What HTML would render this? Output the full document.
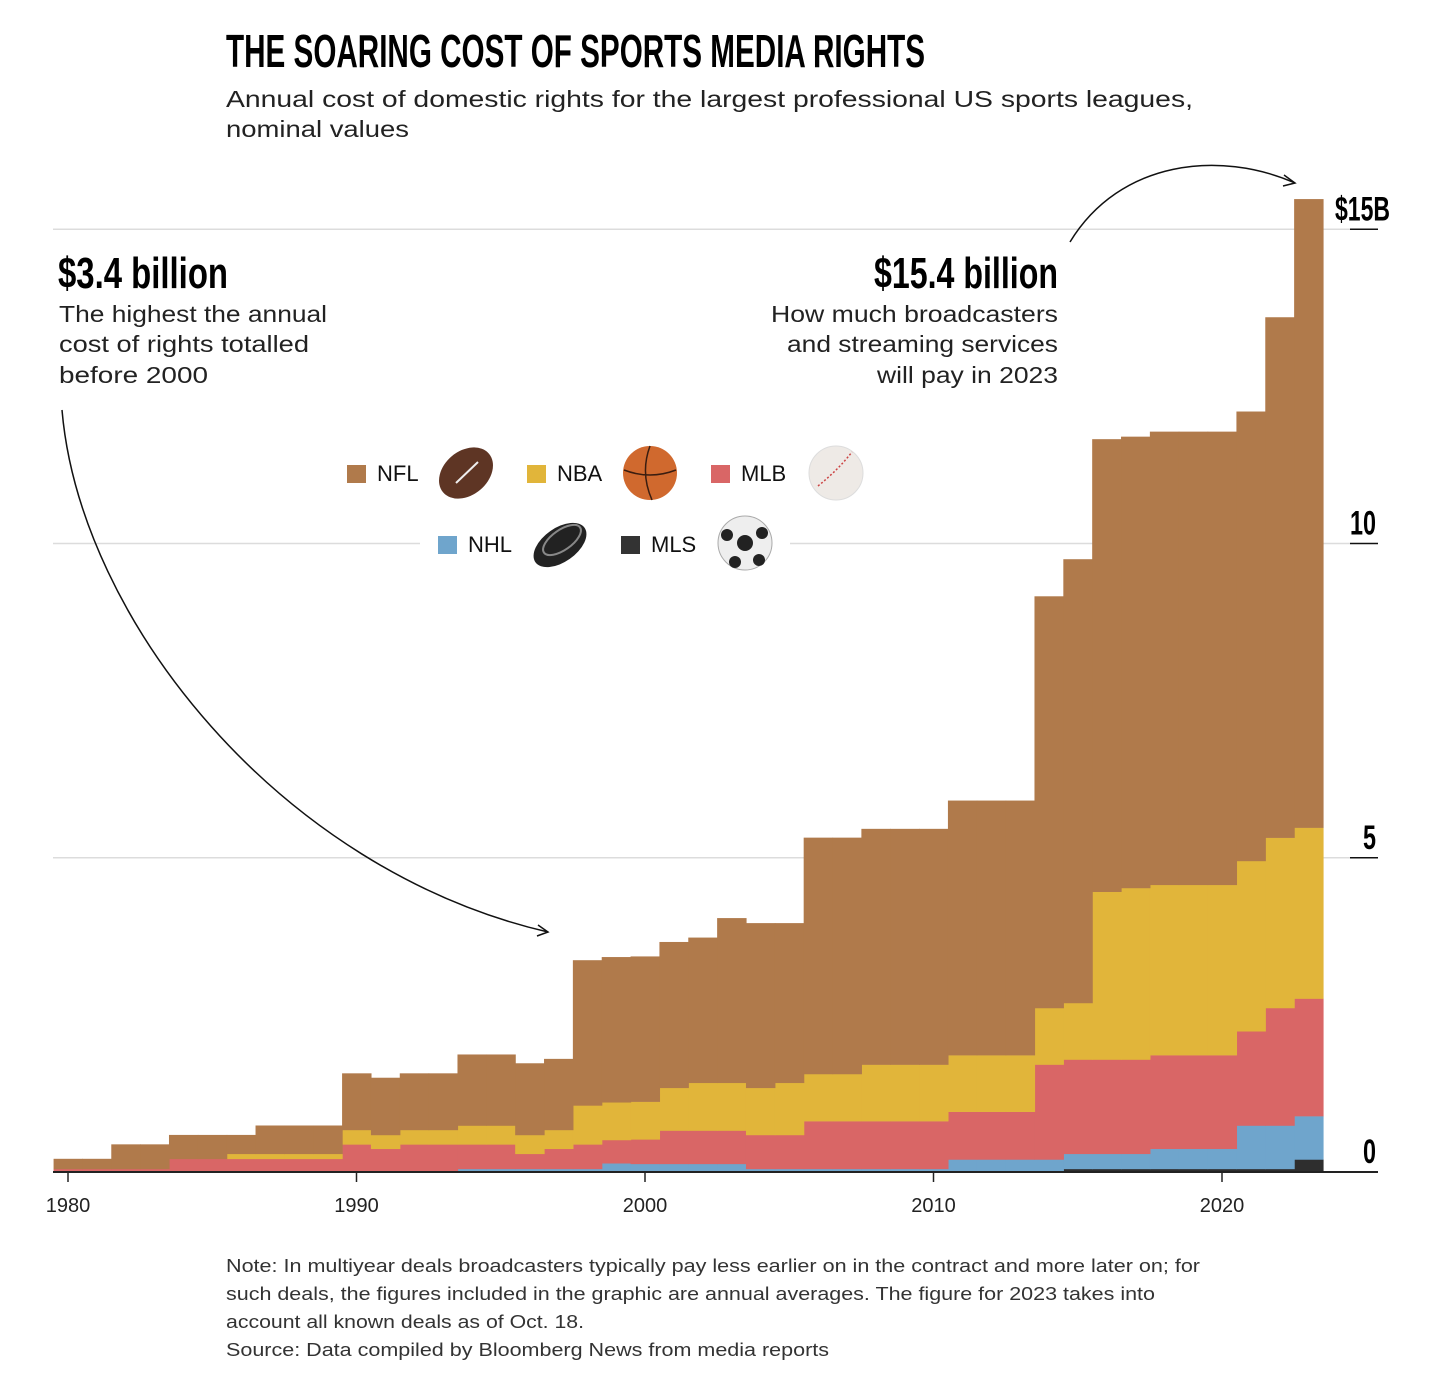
<!DOCTYPE html>
<html><head><meta charset="utf-8"><style>
html,body{margin:0;padding:0;background:#fff;}
svg{display:block;}
</style></head><body>
<svg id="chart" width="1456" height="1386" viewBox="0 0 1456 1386" xmlns="http://www.w3.org/2000/svg">
<text x="226" y="67" font-family="'Liberation Sans Narrow','Liberation Sans',sans-serif" font-weight="bold" font-size="46" textLength="699" lengthAdjust="spacingAndGlyphs" fill="#000">THE SOARING COST OF SPORTS MEDIA RIGHTS</text>
<text x="226" y="107" font-family="'Liberation Sans',sans-serif" font-size="23" fill="#222" textLength="967" lengthAdjust="spacingAndGlyphs">Annual cost of domestic rights for the largest professional US sports leagues,</text>
<text x="226" y="137" font-family="'Liberation Sans',sans-serif" font-size="23" fill="#222" textLength="183" lengthAdjust="spacingAndGlyphs">nominal values</text>
<g id="grid"></g>
<g id="bars"></g>
<g id="axis"></g>
<g>
<text x="58" y="288" font-family="'Liberation Sans Narrow','Liberation Sans',sans-serif" font-weight="bold" font-size="44" textLength="170" lengthAdjust="spacingAndGlyphs" fill="#000">$3.4 billion</text>
<g font-family="'Liberation Sans',sans-serif" font-size="23" fill="#222">
<text x="59" y="322" textLength="268" lengthAdjust="spacingAndGlyphs">The highest the annual</text>
<text x="59" y="352" textLength="250" lengthAdjust="spacingAndGlyphs">cost of rights totalled</text>
<text x="59" y="383" textLength="149" lengthAdjust="spacingAndGlyphs">before 2000</text>
</g>
<path d="M62,410 C80,620 280,870 548,932" fill="none" stroke="#111" stroke-width="1.5"/>
<path d="M538,925 L548,932 L537,936" fill="none" stroke="#111" stroke-width="1.5"/>
</g>
<g>
<text x="1058" y="288" text-anchor="end" font-family="'Liberation Sans Narrow','Liberation Sans',sans-serif" font-weight="bold" font-size="44" textLength="184" lengthAdjust="spacingAndGlyphs" fill="#000">$15.4 billion</text>
<g font-family="'Liberation Sans',sans-serif" font-size="23" fill="#222">
<text x="771" y="322" textLength="287" lengthAdjust="spacingAndGlyphs">How much broadcasters</text>
<text x="787" y="352" textLength="271" lengthAdjust="spacingAndGlyphs">and streaming services</text>
<text x="877" y="383" textLength="181" lengthAdjust="spacingAndGlyphs">will pay in 2023</text>
</g>
<path d="M1070,242 C1120,160 1220,150 1295,183" fill="none" stroke="#111" stroke-width="1.5"/>
<path d="M1284,175 L1295,183 L1283,186" fill="none" stroke="#111" stroke-width="1.5"/>
</g>
<g id="legend" font-family="'Liberation Sans',sans-serif" font-size="22" fill="#111">
<rect x="420" y="525" width="370" height="40" fill="#fff"/>
<g><rect x="347" y="465" width="19" height="18" fill="#b07a4b"/><text x="377" y="481">NFL</text>
<ellipse cx="466" cy="473" rx="30" ry="22" transform="rotate(-40 466 473)" fill="#5e3524"/><path d="M456,483 L478,462" stroke="#eee" stroke-width="2"/></g>
<g><rect x="527" y="465" width="19" height="18" fill="#e1b53a"/><text x="557" y="481">NBA</text>
<circle cx="650" cy="473" r="27" fill="#d0692e"/><path d="M624,470 Q650,480 676,470 M650,446 Q640,473 652,500" stroke="#3a1d10" stroke-width="1.5" fill="none"/></g>
<g><rect x="711" y="465" width="19" height="18" fill="#d96666"/><text x="741" y="481">MLB</text>
<circle cx="836" cy="473" r="27" fill="#eeeae6" stroke="#ddd"/><path d="M818,486 Q838,470 852,452" stroke="#c44" stroke-width="1.5" fill="none" stroke-dasharray="2 2"/></g>
<g><rect x="438" y="536" width="19" height="18" fill="#6fa5cc"/><text x="468" y="552">NHL</text>
<ellipse cx="560" cy="545" rx="30" ry="17" transform="rotate(-35 560 545)" fill="#222"/><ellipse cx="562" cy="540" rx="22" ry="10" transform="rotate(-35 562 540)" fill="none" stroke="#888" stroke-width="2"/></g>
<g><rect x="621" y="536" width="19" height="18" fill="#333"/><text x="651" y="552">MLS</text>
<circle cx="745" cy="543" r="27" fill="#eee" stroke="#aaa"/><circle cx="745" cy="543" r="8" fill="#222"/><circle cx="727" cy="535" r="6" fill="#222"/><circle cx="762" cy="533" r="6" fill="#222"/><circle cx="735" cy="562" r="6" fill="#222"/><circle cx="759" cy="560" r="6" fill="#222"/></g>
</g>
<g font-family="'Liberation Sans',sans-serif" font-size="18.5" fill="#333">
<text x="226" y="1272" textLength="974" lengthAdjust="spacingAndGlyphs">Note: In multiyear deals broadcasters typically pay less earlier on in the contract and more later on; for</text>
<text x="226" y="1300" textLength="929" lengthAdjust="spacingAndGlyphs">such deals, the figures included in the graphic are annual averages. The figure for 2023 takes into</text>
<text x="226" y="1328" textLength="358" lengthAdjust="spacingAndGlyphs">account all known deals as of Oct. 18.</text>
<text x="226" y="1356" textLength="603" lengthAdjust="spacingAndGlyphs">Source: Data compiled by Bloomberg News from media reports</text>
</g>
</svg>
<script>
const years = [];
for (let y = 1980; y <= 2023; y++) years.push(y);
const mls = [0,0,0,0,0,0,0,0,0,0, 0,0,0,0,0,0,0,0,0,0, 0,0,0,0,0,0,0,0,0,0, 0,0,0,0,0,0.05,0.05,0.05,0.05,0.05, 0.05,0.05,0.05,0.2];
const nhl = [0,0,0,0,0,0,0,0,0,0, 0,0,0,0,0.05,0.05,0.05,0.05,0.05,0.14, 0.13,0.13,0.13,0.13,0.05,0.05,0.05,0.05,0.05,0.05, 0.05,0.2,0.2,0.2,0.2,0.24,0.24,0.24,0.32,0.32, 0.32,0.69,0.69,0.69];
const mlb = [0.05,0.05,0.05,0.05,0.21,0.21,0.21,0.21,0.21,0.21, 0.44,0.37,0.44,0.44,0.39,0.39,0.24,0.32,0.39,0.37, 0.39,0.53,0.53,0.53,0.54,0.54,0.76,0.76,0.76,0.76, 0.76,0.76,0.76,0.76,1.51,1.50,1.50,1.50,1.49,1.49, 1.49,1.50,1.87,1.87];
const nba = [0,0,0,0,0,0,0.08,0.08,0.08,0.08, 0.23,0.22,0.23,0.23,0.30,0.30,0.30,0.30,0.62,0.60, 0.60,0.68,0.76,0.76,0.75,0.83,0.75,0.75,0.90,0.90, 0.90,0.90,0.90,0.90,0.90,0.90,2.67,2.73,2.71,2.71, 2.71,2.71,2.71,2.72];
const nfl = [0.16,0.16,0.39,0.39,0.38,0.38,0.30,0.45,0.45,0.45, 0.90,0.91,0.90,0.90,1.13,1.13,1.14,1.13,2.31,2.31, 2.31,2.32,2.31,2.62,2.62,2.54,3.76,3.76,3.75,3.75, 3.75,4.05,4.05,4.05,6.55,7.06,7.20,7.18,7.21,7.21, 7.21,7.15,8.28,10.0];
const yTicks = [0, 5, 10, 15];
const yTickLabels = ["0", "5", "10", "$15B"];
const xTicks = [1980, 1990, 2000, 2010, 2020];

const NS = "http://www.w3.org/2000/svg";
const xScale = yr => 68 + (yr - 1980) * 28.85;
const yScale = v => 1172 - v * 62.85;
function mk(tag, attrs, parent) {
  const e = document.createElementNS(NS, tag);
  for (const k in attrs) e.setAttribute(k, attrs[k]);
  parent.appendChild(e);
  return e;
}
const grid = document.getElementById('grid');
const bars = document.getElementById('bars');
const axis = document.getElementById('axis');

yTicks.forEach((t, i) => {
  if (t > 0) {
    const gl = mk('line', {x1: 53, x2: 1350, y1: yScale(t), y2: yScale(t), stroke: '#dcdcdc', 'stroke-width': 1.5}, grid);
    
    
  }
  const tk = mk('line', {x1: 1350, x2: 1378, y1: yScale(t), y2: yScale(t), stroke: '#111', 'stroke-width': 1.5}, axis);
  
  
  const lbl = yTickLabels[i];
  const isTop = i === yTicks.length - 1;
  const lb = mk('text', {x: isTop ? 1390 : 1376, y: yScale(t) - 9, 'text-anchor': 'end', 'font-family': "'Liberation Sans Narrow','Liberation Sans',sans-serif", 'font-weight': 'bold', 'font-size': 34, fill: '#000', textLength: isTop ? 55 : 13 * lbl.length, lengthAdjust: 'spacingAndGlyphs'}, axis);
  lb.textContent = lbl;
  
  
});

const series = [
  {name: 'mls', vals: mls, color: '#2e2e2e'},
  {name: 'nhl', vals: nhl, color: '#6fa5cc'},
  {name: 'mlb', vals: mlb, color: '#d96666'},
  {name: 'nba', vals: nba, color: '#e1b53a'},
  {name: 'nfl', vals: nfl, color: '#b07a4b'}
];
const base = years.map(() => 0);
series.forEach(s => {
  years.forEach((yr, i) => {
    const v = s.vals[i];
    if (v > 0) {
      const x0 = xScale(yr - 0.5), x1 = xScale(yr + 0.5);
      const yTop = yScale(base[i] + v), yBot = yScale(base[i]);
      const r = mk('rect', {x: x0, y: yTop, width: x1 - x0 + 0.6, height: yBot - yTop + 0.3, fill: s.color}, bars);
      
      
    }
    base[i] += v;
  });
});

const ax = mk('line', {x1: 53, x2: 1378, y1: 1172, y2: 1172, stroke: '#222', 'stroke-width': 2}, axis);


xTicks.forEach(t => {
  const tk = mk('line', {x1: xScale(t), x2: xScale(t), y1: 1172, y2: 1182, stroke: '#222', 'stroke-width': 1.5}, axis);
  
  
  const lb = mk('text', {x: xScale(t), y: 1212, 'text-anchor': 'middle', 'font-family': "'Liberation Sans',sans-serif", 'font-size': 20, fill: '#222'}, axis);
  lb.textContent = String(t);
  
  
});
</script>
</body></html>
